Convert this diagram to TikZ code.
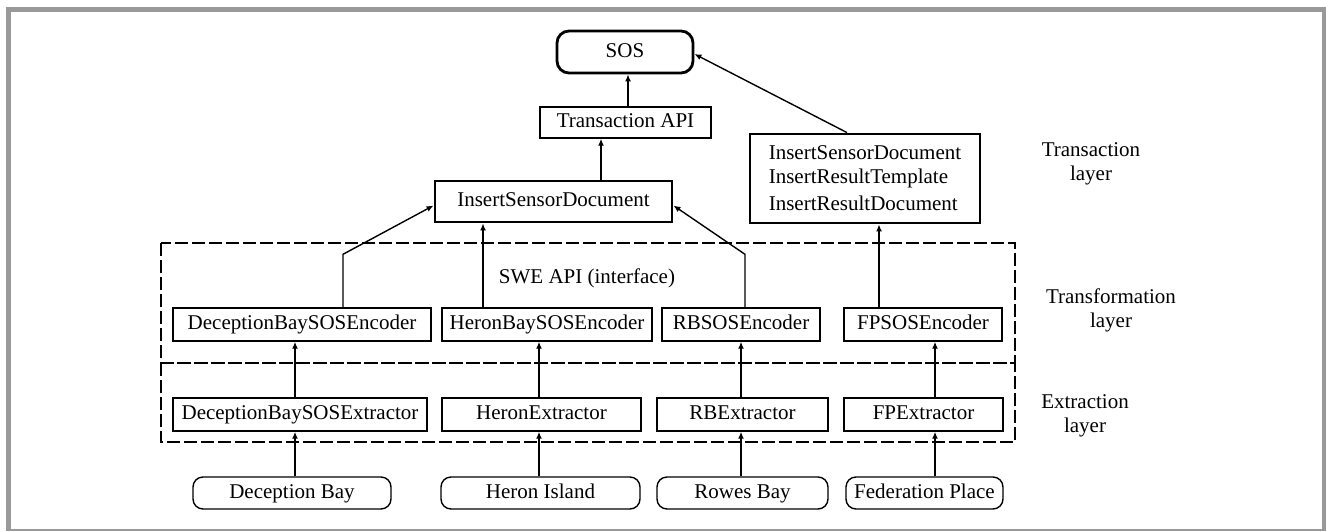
\documentclass[tikz,border=0pt]{standalone}
\usepackage{fontspec}
\setmainfont{Liberation Serif}
\usetikzlibrary{arrows.meta,calc}
\begin{document}
\begin{tikzpicture}[x=1pt,y=-1pt,
  font=\fontsize{21}{24}\selectfont,
  txt/.style={text height=14.5pt,text depth=4.5pt},
  thinbox/.style={draw,line width=1.4pt,inner sep=0pt,minimum height=33pt,txt},
  thickbox/.style={draw,line width=2.8pt,inner sep=0pt},
  sitebox/.style={draw,line width=1.4pt,rounded corners=10pt,inner sep=0pt,minimum height=32pt,txt},
  arr/.style={line width=1.4pt,-{Latex[length=7pt,width=6pt]}},
  layerbox/.style={draw,line width=1.4pt,dash pattern=on 13pt off 4pt},
  lbl/.style={align=center,inner sep=0pt}
]
\useasboundingbox (0,0) rectangle (1326,531);
% frame
\draw[line width=5pt,black!40] (8.5,531) -- (8.5,9) -- (1324,9) -- (1324,531);
\draw[line width=2pt,black!40] (6,530) -- (1326,530);

% dashed layer boxes
\draw[layerbox] (161,243) rectangle (1015,363);
\draw[layerbox] (161,363) rectangle (1015,442);

% transaction layer
\node[thickbox,txt,rounded corners=12pt,minimum width=136pt,minimum height=42pt] (sos) at (625,52) {SOS};
\node[thinbox,minimum width=171pt,minimum height=31pt] (tapi) at (625.5,122.5) {Transaction API};
\node[thickbox,txt,minimum width=237pt,minimum height=41pt] (isd) at (553.5,201.5) {InsertSensorDocument};
\node[thickbox,minimum width=230pt,minimum height=89pt,align=left] (ins) at (865,178.5)
  {InsertSensorDocument\\InsertResultTemplate\\[3pt]InsertResultDocument};

% encoders
\node[thinbox,minimum width=258pt] (dbe) at (302,324.5) {DeceptionBaySOSEncoder};
\node[thinbox,minimum width=210pt] (hbe) at (547,324.5) {HeronBaySOSEncoder};
\node[thinbox,minimum width=158pt] (rbe) at (741,324.5) {RBSOSEncoder};
\node[thinbox,minimum width=158pt] (fpe) at (923,324.5) {FPSOSEncoder};

% extractors
\node[thinbox,minimum width=254pt] (dbx) at (300,414.5) {DeceptionBaySOSExtractor};
\node[thinbox,minimum width=199pt] (hx) at (541.5,414.5) {HeronExtractor};
\node[thinbox,minimum width=171pt] (rbx) at (742.5,414.5) {RBExtractor};
\node[thinbox,minimum width=159pt] (fpx) at (923.5,414.5) {FPExtractor};

% sites
\node[sitebox,minimum width=198pt] (dbs) at (292,493) {Deception Bay};
\node[sitebox,minimum width=199pt] (his) at (540.5,493) {Heron Island};
\node[sitebox,minimum width=171pt] (rbs) at (742.5,493) {Rowes Bay};
\node[sitebox,minimum width=157pt] (fps) at (924.5,493) {Federation Place};

% labels
\node[lbl,anchor=base] (swe) at (587,283) {SWE API (interface)};
\node[lbl] (ltr) at (1091,164) {Transaction\\layer};
\node[lbl] (lfo) at (1111,310) {Transformation\\layer};
\node[lbl] (lex) at (1085,416) {Extraction\\layer};

% arrows: transaction layer
\coordinate (a1) at ([xshift=2.5pt]tapi.north);
\draw[arr] (a1) -- (a1 |- sos.south);
\coordinate (a2) at ([xshift=47.5pt]isd.north);
\draw[arr] (a2) -- (a2 |- tapi.south);
\coordinate (a3) at ([xshift=-18pt]ins.north);
\draw[arr] (a3) -- ([yshift=-2pt]sos.east);

% encoders to transaction
\coordinate (b1) at ([xshift=41pt]dbe.north);
\draw[arr] (b1) -- ++(0,-53) -- ([yshift=-4pt]isd.west);
\coordinate (b2) at ([xshift=-64pt]hbe.north);
\draw[arr] (b2) -- (b2 |- isd.south);
\coordinate (b3) at ([xshift=4pt]rbe.north);
\draw[arr] (b3) -- ++(0,-53) -- ([yshift=-4pt]isd.east);
\coordinate (b4) at ([xshift=-44pt]fpe.north);
\draw[arr] (b4) -- (b4 |- ins.south);

% extractors to encoders
\coordinate (c1) at ([xshift=-5pt]dbx.north);
\draw[arr] (c1) -- (c1 |- dbe.south);
\coordinate (c2) at ([xshift=-2.5pt]hx.north);
\draw[arr] (c2) -- (c2 |- hbe.south);
\coordinate (c3) at ([xshift=-1.5pt]rbx.north);
\draw[arr] (c3) -- (c3 |- rbe.south);
\coordinate (c4) at ([xshift=11.5pt]fpx.north);
\draw[arr] (c4) -- (c4 |- fpe.south);

% sites to extractors
\coordinate (d1) at ([xshift=3pt]dbs.north);
\draw[arr] (d1) -- (d1 |- dbx.south);
\coordinate (d2) at ([xshift=-1.5pt]his.north);
\draw[arr] (d2) -- (d2 |- hx.south);
\coordinate (d3) at ([xshift=-1.5pt]rbs.north);
\draw[arr] (d3) -- (d3 |- rbx.south);
\coordinate (d4) at ([xshift=10.5pt]fps.north);
\draw[arr] (d4) -- (d4 |- fpx.south);
\end{tikzpicture}
\end{document}
